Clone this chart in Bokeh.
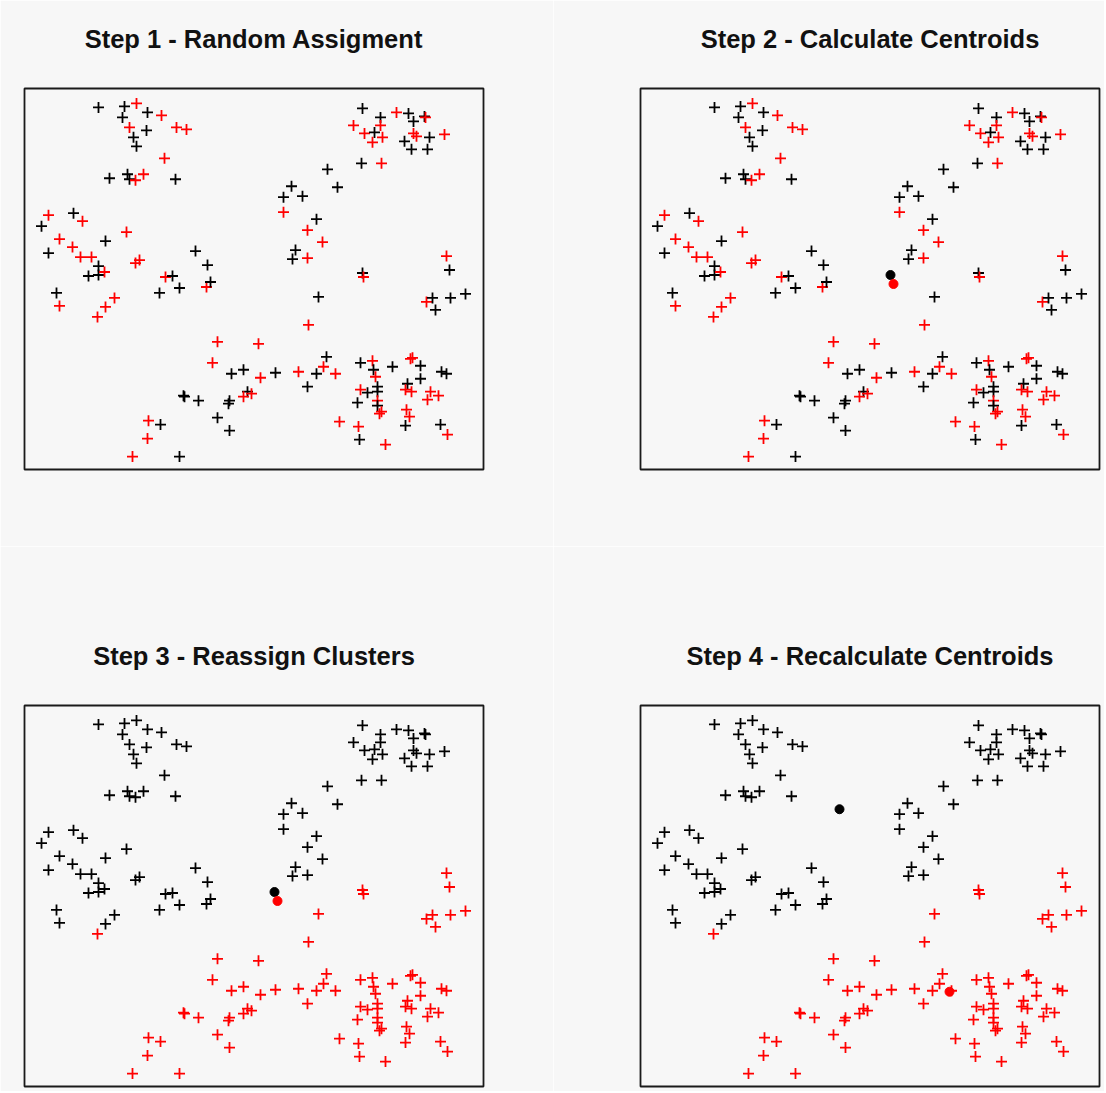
from bokeh.plotting import figure
from bokeh.layouts import gridplot
from bokeh.models import Range1d, ColumnDataSource, Title
from bokeh.embed import file_html
from bokeh.resources import INLINE

# ---- data (arbitrary units) ----
x = [74, 100, 112, 123, 98, 137, 105, 122, 152, 162,
     109, 112, 140, 85, 103, 105, 111, 119, 151, 24,
     49, 17, 58, 102, 35, 81, 24, 48, 56, 67,
     171, 111, 115, 74, 183, 64, 74, 80, 141, 148,
     32, 35, 90, 81, 73, 135, 155, 182, 186, 193,
     188, 207, 219, 159, 160, 174, 205, 204, 223, 219,
     227, 193, 205, 124, 136, 123, 108, 155, 338, 356,
     372, 384, 389, 400, 401, 329, 340, 350, 356, 358,
     348, 389, 392, 405, 420, 380, 387, 403, 337, 357,
     303, 313, 267, 259, 278, 259, 292, 283, 298, 271,
     268, 283, 422, 425, 338, 339, 294, 402, 408, 411,
     426, 441, 284, 234, 236, 251, 274, 292, 302, 299,
     311, 283, 336, 348, 349, 351, 368, 386, 388, 396,
     396, 417, 422, 336, 343, 353, 353, 333, 353, 353,
     355, 357, 383, 381, 387, 406, 414, 403, 382, 385,
     381, 416, 423, 315, 334, 335, 361]
y = [363, 364, 367, 358, 353, 355, 343, 340, 343, 341,
     333, 324, 312, 292, 296, 291, 290, 296, 291, 255,
     257, 244, 249, 238, 231, 229, 217, 223, 213, 213,
     219, 207, 210, 204, 205, 194, 195, 198, 193, 194,
     177, 164, 172, 163, 153, 177, 182, 183, 188, 128,
     107, 96, 100, 74, 73, 69, 69, 66, 78, 73,
     76, 52, 39, 49, 45, 31, 13, 13, 362, 353,
     358, 357, 349, 354, 353, 345, 337, 338, 345, 333,
     328, 337, 334, 333, 336, 329, 321, 321, 307, 307,
     301, 283, 284, 273, 274, 258, 251, 240, 228, 220,
     211, 212, 214, 200, 197, 193, 173, 168, 172, 160,
     172, 176, 145, 126, 92, 97, 98, 96, 113, 103,
     96, 83, 107, 109, 100, 93, 103, 111, 112, 104,
     91, 98, 96, 80, 77, 83, 78, 67, 69, 64,
     56, 58, 86, 80, 78, 78, 74, 70, 60, 53,
     44, 45, 35, 48, 43, 30, 25]
# cluster labels: 1 = black cluster, 2 = red cluster
step1_cluster = [1, 1, 2, 1, 1, 2, 2, 1, 2, 2,
                 1, 1, 2, 1, 1, 1, 2, 2, 1, 2,
                 1, 1, 2, 2, 2, 1, 1, 2, 2, 2,
                 1, 2, 2, 1, 1, 1, 1, 2, 2, 1,
                 1, 2, 2, 2, 2, 1, 1, 2, 1, 2,
                 2, 1, 1, 1, 1, 1, 1, 1, 1, 2,
                 2, 1, 1, 2, 1, 2, 2, 1, 1, 1,
                 2, 1, 1, 1, 2, 2, 2, 1, 2, 2,
                 2, 2, 2, 1, 2, 1, 1, 1, 1, 2,
                 1, 1, 1, 1, 1, 2, 1, 2, 2, 1,
                 1, 2, 2, 1, 1, 2, 1, 2, 1, 1,
                 1, 1, 2, 2, 2, 1, 2, 1, 1, 2,
                 2, 1, 1, 2, 1, 2, 1, 2, 2, 1,
                 1, 1, 1, 2, 1, 1, 1, 1, 2, 1,
                 2, 2, 1, 2, 2, 2, 2, 2, 2, 2,
                 1, 1, 2, 2, 2, 1, 2]
step3_cluster = [1, 1, 1, 1, 1, 1, 1, 1, 1, 1,
                 1, 1, 1, 1, 1, 1, 1, 1, 1, 1,
                 1, 1, 1, 1, 1, 1, 1, 1, 1, 1,
                 1, 1, 1, 1, 1, 1, 1, 1, 1, 1,
                 1, 1, 1, 1, 2, 1, 1, 1, 1, 2,
                 2, 2, 2, 2, 2, 2, 2, 2, 2, 2,
                 2, 2, 2, 2, 2, 2, 2, 2, 1, 1,
                 1, 1, 1, 1, 1, 1, 1, 1, 1, 1,
                 1, 1, 1, 1, 1, 1, 1, 1, 1, 1,
                 1, 1, 1, 1, 1, 1, 1, 1, 1, 1,
                 1, 1, 2, 2, 2, 2, 2, 2, 2, 2,
                 2, 2, 2, 2, 2, 2, 2, 2, 2, 2,
                 2, 2, 2, 2, 2, 2, 2, 2, 2, 2,
                 2, 2, 2, 2, 2, 2, 2, 2, 2, 2,
                 2, 2, 2, 2, 2, 2, 2, 2, 2, 2,
                 2, 2, 2, 2, 2, 2, 2]
# centroids (cluster 1, cluster 2)
centroids_a_x = [250, 253]
centroids_a_y = [195, 186]
centroids_b_x = [199, 309]
centroids_b_y = [278, 95]

titles = ["Step 1 - Random Assigment", "Step 2 - Calculate Centroids",
          "Step 3 - Reassign Clusters", "Step 4 - Recalculate Centroids"]

COLORS = {1: "#000000", 2: "#ff0000"}
BG = "#f7f7f7"


def make_panel(title, clusters, cx, cy, left, right, top, bottom):
    p = figure(frame_width=459, frame_height=381,
               x_range=Range1d(0, 459), y_range=Range1d(0, 382),
               output_backend="svg", toolbar_location=None,
               x_axis_location=None, y_axis_location=None,
               min_border_left=left, min_border_right=right,
               min_border_top=top, min_border_bottom=bottom,
               background_fill_color=BG, border_fill_color=BG,
               outline_line_color="#1a1a1a", outline_line_width=1.8)
    p.grid.visible = False
    # gap between heading and plot box
    p.add_layout(Title(text=" ", text_font_size="10px", standoff=23), "above")
    p.add_layout(Title(text=title, align="center", text_font="Liberation Sans",
                       text_font_style="bold", text_font_size="25.5px",
                       text_color="#111111", standoff=0), "above")
    src = ColumnDataSource(dict(x=x, y=y, c=[COLORS[k] for k in clusters]))
    p.scatter("x", "y", source=src, marker="cross", size=11,
              line_color="c", line_width=1.8)
    if cx is not None:
        p.scatter(cx, cy, marker="circle", size=9,
                  fill_color=[COLORS[1], COLORS[2]],
                  line_color=[COLORS[1], COLORS[2]])
    return p


p1 = make_panel(titles[0], step1_cluster, None, None, 24, 70, 88, 77)
p2 = make_panel(titles[1], step1_cluster, centroids_a_x, centroids_a_y, 87, 5, 88, 77)
p3 = make_panel(titles[2], step3_cluster, centroids_a_x, centroids_a_y, 24, 70, 159, 5)
p4 = make_panel(titles[3], step3_cluster, centroids_b_x, centroids_b_y, 87, 5, 159, 5)

grid = gridplot([[p1, p2], [p3, p4]], toolbar_location=None)

open("out.html", "w").write(file_html(grid, INLINE))
